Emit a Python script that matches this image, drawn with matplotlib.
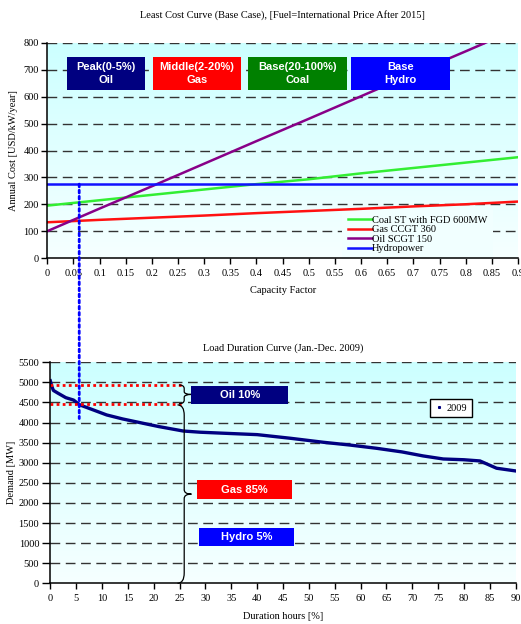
import numpy as np
import matplotlib
matplotlib.use("Agg")
import matplotlib.pyplot as plt
from matplotlib.patches import Rectangle, PathPatch, ConnectionPatch
from matplotlib.path import Path
from matplotlib.lines import Line2D
from matplotlib.colors import LinearSegmentedColormap

plt.rcParams["font.family"] = ["Liberation Serif", "DejaVu Serif"]

# ---- Least cost curve data (annual cost, USD/kW/year) ----
capacity_factor = [0.0, 0.1, 0.2, 0.3, 0.4, 0.5, 0.6, 0.7, 0.8, 0.9]
coal_cost = [195, 215, 235, 255, 275, 293, 315, 335, 355, 375]
gas_cost = [133, 142, 150, 158, 167, 175, 183, 192, 200, 210]
oil_cost = [100, 184, 267, 351, 435, 518, 602, 686, 769, 853]
hydro_cost = [275, 275, 275, 275, 275, 275, 275, 275, 275, 275]
cost_labels = ["Coal ST with FGD 600MW", "Gas CCGT 360", "Oil SCGT 150", "Hydropower"]
cost_colors = ["#33ee33", "#ff1111", "#880088", "#1111ff"]

# ---- Load duration curve data (2009) ----
duration_pct = [0, 0.3, 0.6, 1.5, 3, 4.5, 5.7, 8, 10.9, 14, 17.3, 21, 25.7, 29,
                33.5, 40, 46.4, 52.8, 58, 63.1, 68, 72.1, 76, 80, 83.1, 86.3, 90]
demand_mw = [5040, 4900, 4800, 4730, 4620, 4560, 4440, 4330, 4190, 4090, 4000,
             3900, 3790, 3760, 3735, 3700, 3610, 3510, 3440, 3360, 3270, 3170,
             3094, 3075, 3045, 2864, 2796]

fig = plt.figure(figsize=(5.21, 6.24), dpi=100)
ax1 = fig.add_axes([0.0908, 0.5865, 0.9034, 0.3446])
ax2 = fig.add_axes([0.0965, 0.0652, 0.8933, 0.3542])

grad = LinearSegmentedColormap.from_list("bg", ["#f6ffff", "#ccffff"])


def style_axes(ax, xmax, ymax, ystep, xticks):
    ax.imshow(np.linspace(0, 1, 256).reshape(-1, 1), cmap=grad, aspect="auto",
              extent=[0, xmax, 0, ymax], origin="lower", zorder=0)
    ax.set_xlim(0, xmax)
    ax.set_ylim(0, ymax)
    ax.set_yticks(np.arange(0, ymax + 1, ystep))
    ax.set_xticks(xticks)
    for s in ("top", "right"):
        ax.spines[s].set_visible(False)
    for s in ("left", "bottom"):
        ax.spines[s].set_linewidth(1.1)
        ax.spines[s].set_zorder(5)
    ax.tick_params(labelsize=7.5, width=1, colors="black")
    for yv in np.arange(ystep, ymax + 1, ystep):
        ax.axhline(yv, color="#333333", lw=1.0, ls=(0, (7, 4)), zorder=1)


# ---------------- Top: least cost curve ----------------
style_axes(ax1, 0.9, 800, 100, np.round(np.arange(0, 0.91, 0.05), 2))
ax1.set_xticklabels([f"{v:g}" for v in np.round(np.arange(0, 0.91, 0.05), 2)])
ax1.tick_params(axis="x", length=4, pad=4)
ax1.tick_params(axis="y", length=4, pad=2)

for series, lab, col in zip([coal_cost, gas_cost, oil_cost, hydro_cost],
                            cost_labels, cost_colors):
    ax1.plot(capacity_factor, series, color=col, lw=1.8, label=lab, zorder=3,
             clip_on=True)

leg1 = ax1.legend(loc="upper left", bbox_to_anchor=(0.627, 0.223),
                  frameon=True, facecolor="#f1ffff", edgecolor="none",
                  framealpha=1, fancybox=False,
                  fontsize=7.5, handlelength=2.3, handletextpad=0.05,
                  labelspacing=0.03, borderpad=0.5, borderaxespad=0)
leg1.set_zorder(2)

ax1.set_title("Least Cost Curve (Base Case), [Fuel=International Price After 2015]",
              fontsize=7.5, pad=18)
ax1.set_xlabel("Capacity Factor", fontsize=7.5, labelpad=6)
ax1.set_ylabel("Annual Cost [USD/kW/year]", fontsize=7.5, labelpad=4)

top_boxes = [("Peak(0-5%)\nOil", "#000080", 0.038, 0.187),
             ("Middle(2-20%)\nGas", "#ff0000", 0.202, 0.370),
             ("Base(20-100%)\nCoal", "#008000", 0.384, 0.573),
             ("Base\nHydro", "#0000ff", 0.581, 0.770)]
for txt, col, x0, x1 in top_boxes:
    ax1.add_patch(Rectangle((x0, 625), x1 - x0, 123, facecolor=col,
                            edgecolor="none", zorder=4))
    ax1.text((x0 + x1) / 2, 686, txt, color="white", fontsize=8,
             fontweight="bold", family=["Liberation Sans", "DejaVu Sans"],
             ha="center", va="center", linespacing=1.35, zorder=5)

# ---------------- Bottom: load duration curve ----------------
style_axes(ax2, 90, 5500, 500, np.arange(0, 91, 5))
ax2.tick_params(axis="x", length=4, pad=4)
ax2.tick_params(axis="y", length=6, pad=2)

ax2.plot(duration_pct, demand_mw, color="#000080", lw=2.4, zorder=3)
handle_2009 = Line2D([], [], color="#000080", marker="s", markersize=1.2,
                     ls="none")
ax2.legend([handle_2009], ["2009"], loc="upper left",
           bbox_to_anchor=(0.816, 0.836), fontsize=7.5, fancybox=False,
           edgecolor="black", framealpha=1, handlelength=0.8,
           handletextpad=0.3, borderpad=0.45, borderaxespad=0)

ax2.set_title("Load Duration Curve (Jan.-Dec. 2009)", fontsize=7.5, pad=8)
ax2.set_xlabel("Duration hours [%]", fontsize=7.5, labelpad=6)
ax2.set_ylabel("Demand [MW]", fontsize=7.5, labelpad=2)

# oil band limits
for yv in (4935, 4450):
    ax2.plot([0, 25.8], [yv, yv], color="#ff0000", lw=2, ls=(0, (1, 1.2)),
             zorder=4)


def brace(ax, x0, xend, xtip, ytop, ybot, ytip, hcurl, htip):
    verts = [(xend, ytop), (x0, ytop), (x0, ytop - hcurl),
             (x0, ytip + htip), (x0, ytip), (xtip, ytip),
             (x0, ytip), (x0, ytip - htip),
             (x0, ybot + hcurl), (x0, ybot), (xend, ybot)]
    codes = [Path.MOVETO, Path.CURVE3, Path.CURVE3,
             Path.LINETO, Path.CURVE3, Path.CURVE3,
             Path.CURVE3, Path.CURVE3,
             Path.LINETO, Path.CURVE3, Path.CURVE3]
    ax.add_patch(PathPatch(Path(verts, codes), facecolor="none",
                           edgecolor="black", lw=0.9, zorder=4, clip_on=False))


brace(ax2, 25.9, 24.9, 27.3, 4935, 4470, 4700, 90, 70)
brace(ax2, 25.9, 24.6, 27.3, 4440, 0, 2220, 260, 110)

bottom_boxes = [("Oil 10%", "#000080", 27.3, 46.0, 4460, 4910),
                ("Gas 85%", "#ff0000", 28.4, 46.7, 2095, 2559),
                ("Hydro 5%", "#0000ff", 28.8, 47.1, 933, 1383)]
for txt, col, x0, x1, y0, y1 in bottom_boxes:
    ax2.add_patch(Rectangle((x0, y0), x1 - x0, y1 - y0, facecolor=col,
                            edgecolor="none", zorder=4))
    ax2.text((x0 + x1) / 2, (y0 + y1) / 2, txt, color="white", fontsize=8,
             fontweight="bold", family=["Liberation Sans", "DejaVu Sans"],
             ha="center", va="center", zorder=5)

# link between the hydro cost crossing and the load curve
link = ConnectionPatch(xyA=(0.061, 275), coordsA=ax1.transData,
                       xyB=(5.6, 4100), coordsB=ax2.transData,
                       color="#0000ff", lw=2, ls=(0, (1, 1.2)), zorder=6)
fig.add_artist(link)

fig.savefig("out.png", dpi=100)
